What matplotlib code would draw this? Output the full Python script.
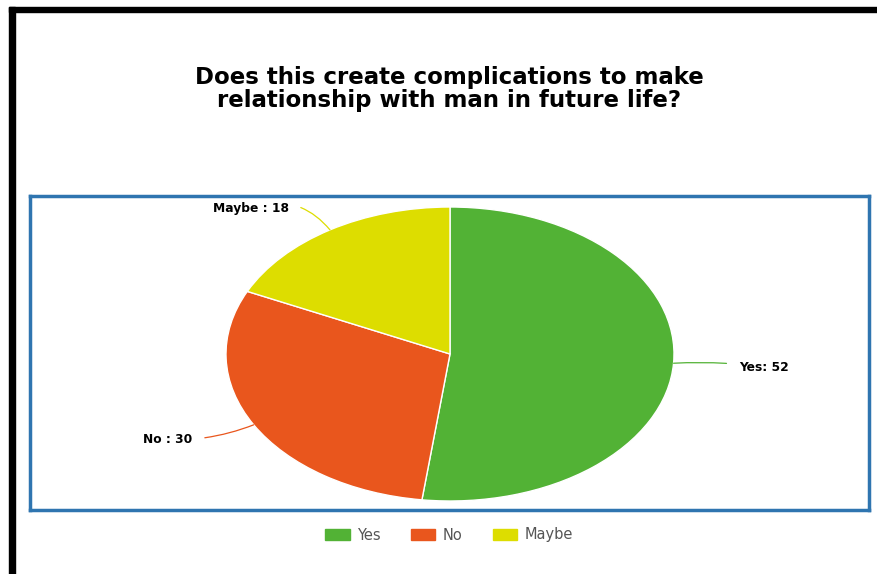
import numpy as np
import matplotlib.pyplot as plt
from matplotlib.patches import Rectangle, Patch

# data
answers = ['Yes', 'No', 'Maybe']
counts = [52, 30, 18]
colors = ['#52b235', '#e9561d', '#dddd00']
title = 'Does this create complications to make\nrelationship with man in future life?'

W, H = 878, 574
fig = plt.figure(figsize=(W / 100, H / 100), dpi=100)

# black frame (top and left only, like the screenshot)
fig.patches.append(Rectangle((9 / W, 1 - 12 / H), 1, 5 / H, transform=fig.transFigure,
                             color='black', zorder=0))
fig.patches.append(Rectangle((9 / W, 0), 6 / W, 1 - 7 / H, transform=fig.transFigure,
                             color='black', zorder=0))

fig.text(449 / W, 1 - 89 / H, title, ha='center', va='center', fontsize=16.5,
         fontweight='bold', family='DejaVu Sans', linespacing=1.0)

# blue box around the pie
box = fig.add_axes([30 / W, 1 - 510 / H, (869 - 30) / W, (510 - 196) / H])
box.set_xticks([])
box.set_yticks([])
for sp in box.spines.values():
    sp.set_color('#2f75b0')
    sp.set_linewidth(2.5)

# pie (stretched into an ellipse like the reference)
ax = fig.add_axes([226 / W, 1 - 501 / H, 448 / W, 294 / H])
wedges, _ = ax.pie(counts, colors=colors, startangle=90, counterclock=False,
                   wedgeprops=dict(edgecolor='white', linewidth=1))
ax.set_aspect('auto')
ax.set_xlim(-1, 1)
ax.set_ylim(-1, 1)
ax.axis('off')

# outside labels with thin connector lines
label_pos = {'Yes': (1.29, -0.09, 'left', 0.05),
             'No': (-1.15, -0.585, 'right', 0.1),
             'Maybe': (-0.72, 0.99, 'right', -0.35)}
for w, name, n, c in zip(wedges, answers, counts, colors):
    ang = np.deg2rad((w.theta1 + w.theta2) / 2)
    px, py = np.cos(ang), np.sin(ang)
    tx, ty, ha, rad = label_pos[name]
    sep = ': ' if name == 'Yes' else ' : '
    ax.annotate(f'{name}{sep}{n}', xy=(px, py), xytext=(tx, ty),
                ha=ha, va='center', fontsize=8.8, fontweight='bold', family='DejaVu Sans',
                annotation_clip=False,
                arrowprops=dict(arrowstyle='-', color=c, lw=0.9, shrinkA=7, shrinkB=0,
                                connectionstyle=f'arc3,rad={rad}'))

handles = [Patch(facecolor=c, edgecolor=c, label=a) for a, c in zip(answers, colors)]
fig.legend(handles=handles, loc='center', bbox_to_anchor=(449 / W, 1 - 535 / H), ncol=3,
           frameon=False, handlelength=1.65, handleheight=0.8,
           columnspacing=2.1, handletextpad=0.5,
           prop=dict(family='DejaVu Sans', size=10.5), labelcolor='#555555')

fig.savefig('out.png', dpi=100)
